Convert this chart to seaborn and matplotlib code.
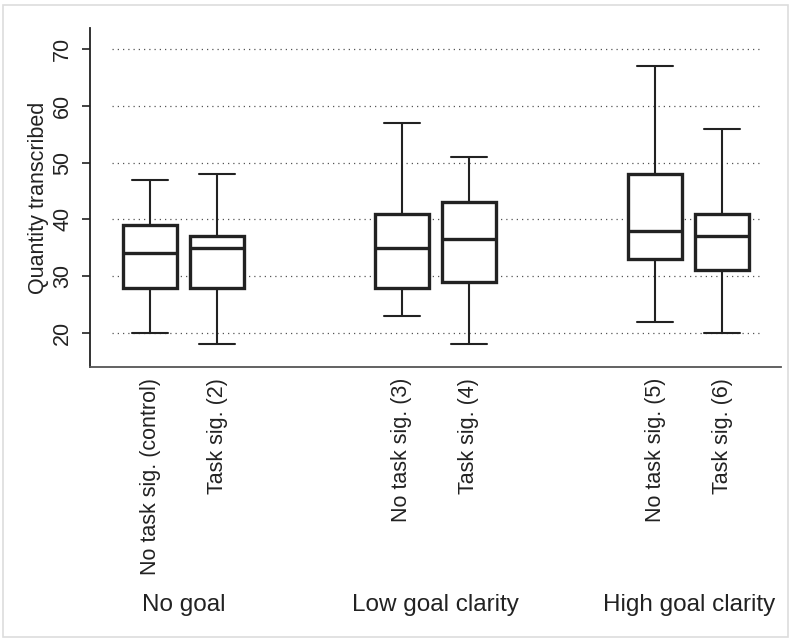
import numpy as np
import pandas as pd
import matplotlib
matplotlib.use("Agg")
import matplotlib.pyplot as plt
import matplotlib.transforms as mtransforms
from matplotlib.patches import Rectangle
import seaborn as sns

# box positions on the x axis (pairs inside three goal groups)
positions = [0, 1, 3.76, 4.76, 7.54, 8.54]
conditions = ["No task sig. (control)", "Task sig. (2)",
              "No task sig. (3)", "Task sig. (4)",
              "No task sig. (5)", "Task sig. (6)"]
groups = ["No goal", "Low goal clarity", "High goal clarity"]

# five-number summaries: min, q1, median, q3, max
mins = [20, 18, 23, 18, 22, 20]
q1s = [28, 28, 28, 29, 33, 31]
medians = [34, 35, 35, 36.5, 38, 37]
q3s = [39, 37, 41, 43, 48, 41]
maxs = [47, 48, 57, 51, 67, 56]

yticks = [20, 30, 40, 50, 60, 70]

rows = []
for p, a, b, c, d, e in zip(positions, mins, q1s, medians, q3s, maxs):
    for v in (a, b, c, d, e):
        rows.append({"pos": p, "value": v})
df = pd.DataFrame(rows)

sns.set_style("ticks")
plt.rcParams["font.family"] = ["Liberation Sans", "DejaVu Sans"]
ink = "#222222"

fig = plt.figure(figsize=(7.91, 6.42), dpi=100)
ax = fig.add_axes([90 / 791, 1 - 367 / 642, 691 / 791, 339 / 642])

# dotted guide lines behind the boxes
ax.hlines(yticks, -0.567, 9.09, colors="#555555", linewidth=0.9,
          linestyles=(0, (1, 3.2)), zorder=0)

sns.boxplot(data=df, x="pos", y="value", native_scale=True, ax=ax,
            color="white", linecolor=ink, width=0.8, whis=(0, 100),
            linewidth=1.5,
            boxprops={"linewidth": 2.4, "zorder": 2},
            medianprops={"linewidth": 2.4},
            whiskerprops={"linewidth": 1.5},
            capprops={"linewidth": 1.5},
            capwidths=0.54)

ax.set_xlim(-0.896, 9.418)
ax.set_ylim(14.0, 73.7)
ax.set_yticks(yticks)
ax.set_xticks(positions, labels=conditions)

sns.despine(ax=ax)
ax.spines["left"].set_linewidth(1.3)
ax.spines["left"].set_color(ink)
ax.spines["bottom"].set_linewidth(1.3)
ax.spines["bottom"].set_color("#555555")

ax.tick_params(axis="x", length=0, pad=8, labelsize=15.5, colors=ink,
               labelrotation=90)
ax.tick_params(axis="y", length=6, width=1.2, pad=6, labelsize=15.5,
               colors=ink, labelrotation=90)
for lab in ax.get_yticklabels():
    lab.set_va("center")
for lab in ax.get_xticklabels():
    lab.set_va("top")
    lab.set_ha("center")

ax.set_xlabel("")
ax.set_ylabel("Quantity transcribed", fontsize=15.5, color=ink)
ax.yaxis.set_label_coords(-0.059, 0.5)

trans = mtransforms.blended_transform_factory(ax.transData, ax.transAxes)
for i, g in enumerate(groups):
    cx = (positions[2 * i] + positions[2 * i + 1]) / 2
    ax.text(cx, -0.702, g, transform=trans, ha="center", va="center",
            fontsize=17.5, color=ink)

# light frame round the whole picture
fig.patches.append(Rectangle((3 / 791, 1 - 637 / 642), 785 / 791, 632 / 642,
                             transform=fig.transFigure, fill=False,
                             edgecolor="#dddddd", linewidth=1.2))

fig.savefig("out.png", dpi=100)
